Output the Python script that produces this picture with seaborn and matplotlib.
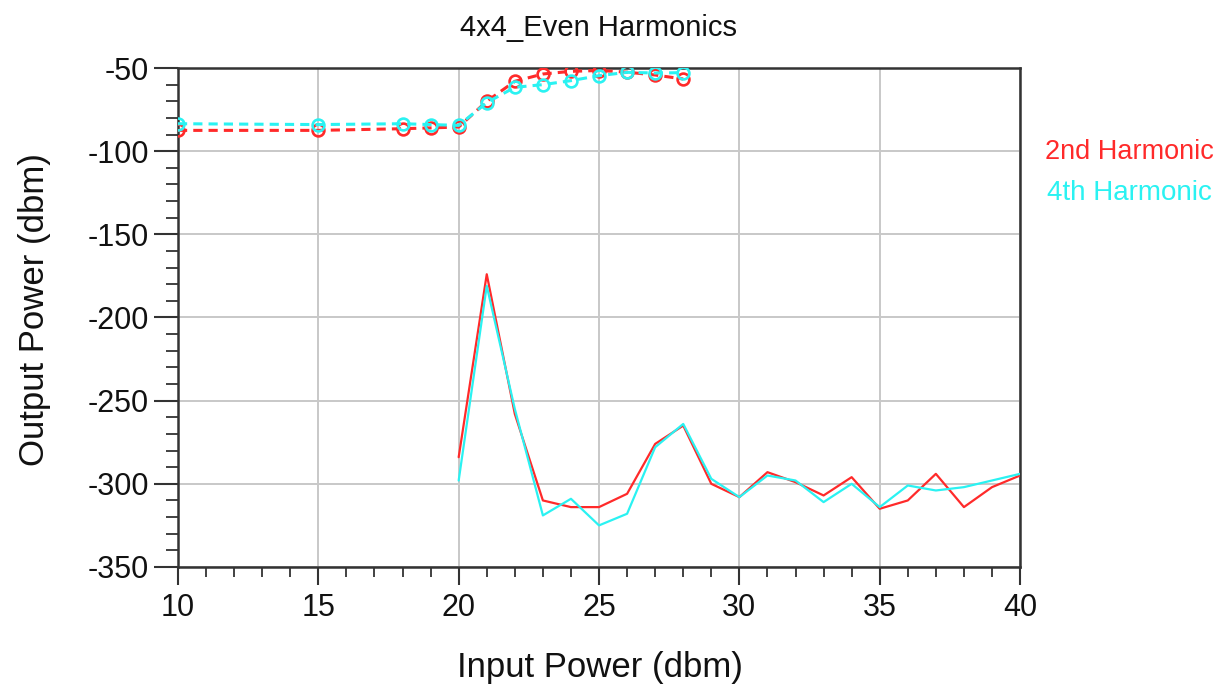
import matplotlib
matplotlib.use("Agg")
import matplotlib.pyplot as plt
import seaborn as sns
import pandas as pd
from matplotlib.ticker import MultipleLocator

# Swept input power (dBm) and measured harmonic output power (dBm)
sweep_in = [10, 15, 18, 19, 20, 21, 22, 23, 24, 25, 26, 27, 28]
sweep_2nd = [-87.5, -87.5, -86.5, -86.0, -85.5, -70.0, -58.0, -53.6, -52.0, -51.5, -52.5, -54.2, -56.6]
sweep_4th = [-83.5, -84.0, -83.5, -84.0, -84.5, -70.8, -61.6, -60.0, -57.6, -54.6, -52.6, -53.0, -52.8]

sim_in = list(range(20, 41))
sim_2nd = [-284, -174, -258, -310, -314, -314, -306, -276, -265, -300, -308, -293,
           -299, -307, -296, -315, -310, -294, -314, -302, -295]
sim_4th = [-298, -181, -255, -319, -309, -325, -318, -278, -264, -297, -308, -295,
           -298, -311, -300, -314, -301, -304, -302, -298, -294]

title = "4x4_Even Harmonics"
xlabel = "Input Power (dbm)"
ylabel = "Output Power (dbm)"
labels = ["2nd Harmonic", "4th Harmonic"]

RED = "#ff2a2a"
CYAN = "#2af2f2"
INK = "#111111"

sns.set_style("white")
plt.rcParams["font.family"] = ["Liberation Sans", "DejaVu Sans"]
plt.rcParams["axes.unicode_minus"] = False

fig = plt.figure(figsize=(12.25, 6.87), dpi=100)
ax = fig.add_axes([0.1453, 0.1747, 0.6874, 0.7263])

sweep = pd.DataFrame({"pin": sweep_in, "h2": sweep_2nd, "h4": sweep_4th})
sim = pd.DataFrame({"pin": sim_in, "h2": sim_2nd, "h4": sim_4th})

sns.lineplot(data=sim, x="pin", y="h2", ax=ax, color=RED, lw=1.6, zorder=3)
sns.lineplot(data=sim, x="pin", y="h4", ax=ax, color=CYAN, lw=1.6, zorder=4)
sns.lineplot(data=sweep, x="pin", y="h2", ax=ax, color=RED, lw=2.2,
             linestyle=(0, (3, 2)), marker="o", markersize=8.5,
             markerfacecolor="none", markeredgecolor=RED, markeredgewidth=1.9, zorder=5)
sns.lineplot(data=sweep, x="pin", y="h4", ax=ax, color=CYAN, lw=2.2,
             linestyle=(0, (3, 2)), marker="o", markersize=8.5,
             markerfacecolor="none", markeredgecolor=CYAN, markeredgewidth=1.9, zorder=6)

ax.set_xlim(10, 40)
ax.set_ylim(-350, -50)
ax.xaxis.set_major_locator(MultipleLocator(5))
ax.xaxis.set_minor_locator(MultipleLocator(1))
ax.yaxis.set_major_locator(MultipleLocator(50))
ax.yaxis.set_minor_locator(MultipleLocator(10))
ax.grid(True, which="major", color="#c8c8c8", lw=1.4)
ax.set_axisbelow(True)

for s in ax.spines.values():
    s.set_color("#333333")
    s.set_linewidth(1.8)
    s.set_visible(True)

ax.tick_params(axis="both", which="major", direction="out", width=1.5,
               color="#333333", labelsize=22, labelcolor=INK)
ax.tick_params(axis="x", which="major", length=13, pad=6)
ax.tick_params(axis="y", which="major", length=17, pad=4)
ax.tick_params(axis="x", which="minor", direction="out", length=7, width=1.3,
               color="#333333")
ax.tick_params(axis="y", which="minor", direction="out", length=9, width=1.3,
               color="#333333")
ax.tick_params(axis="x", which="both", bottom=True)
ax.tick_params(axis="y", which="both", left=True)

ax.set_xlabel("")
ax.set_ylabel("")
fig.text(600 / 1225, 1 - 667 / 687, xlabel, ha="center", va="center",
         fontsize=25, color=INK)
fig.text(35 / 1225, 1 - 310 / 687, ylabel, ha="center", va="center",
         rotation=90, fontsize=25, color=INK)
fig.text(598 / 1225, 1 - 28 / 687, title, ha="center", va="center",
         fontsize=21, color=INK)

fig.text(1045 / 1225, 1 - 152 / 687, labels[0], ha="left", va="center",
         fontsize=19.5, color=RED)
fig.text(1047 / 1225, 1 - 193 / 687, labels[1], ha="left", va="center",
         fontsize=20, color=CYAN)

fig.savefig("out.png", dpi=100, facecolor="white")
